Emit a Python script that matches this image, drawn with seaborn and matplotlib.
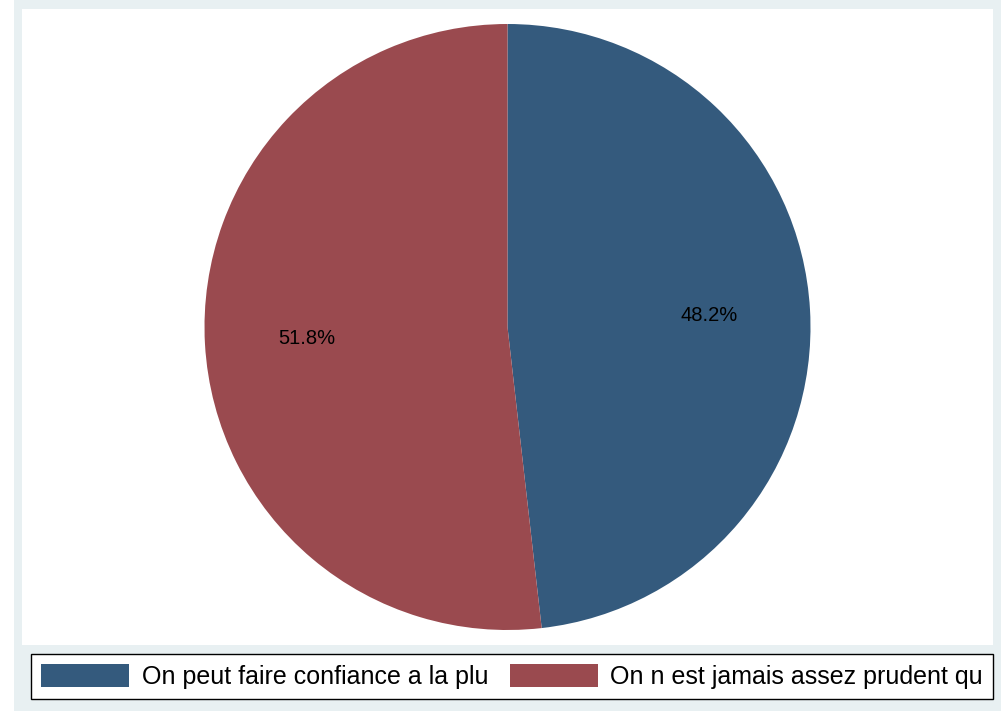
import matplotlib
matplotlib.use("Agg")
import matplotlib.pyplot as plt
import seaborn as sns
from matplotlib.patches import Rectangle

labels = ["On peut faire confiance a la plu", "On n est jamais assez prudent qu"]
shares = [48.2, 51.8]
colors = ["#345a7d", "#9a4a4f"]

sns.set_theme(style="white")
plt.rcParams['font.family'] = ['Liberation Sans', 'DejaVu Sans']

W, H = 1008, 711
fig = plt.figure(figsize=(W / 100, H / 100), dpi=100, facecolor="white")

# light grey-blue graph region, white plot region on top of it
fig.patches.append(Rectangle((14 / W, 0), 987 / W, 1, transform=fig.transFigure,
                             facecolor="#e8f0f2", edgecolor="none", zorder=-5))
fig.patches.append(Rectangle((22 / W, (H - 645) / H), 971 / W, 636 / H,
                             transform=fig.transFigure,
                             facecolor="white", edgecolor="none", zorder=-4))

ax = fig.add_axes([22 / W, (H - 645) / H, 971 / W, 636 / H])
ax.set_zorder(1)
wedges, texts, autotexts = ax.pie(
    shares, colors=colors, startangle=90, counterclock=False,
    autopct="%1.1f%%", pctdistance=0.665, radius=1.0,
    textprops={"fontsize": 14.5, "color": "black"},
    wedgeprops={"linewidth": 0})
ax.set_xlim(-971 / 2 / 303, 971 / 2 / 303)
ax.set_ylim(-636 / 2 / 303, 636 / 2 / 303)
ax.set_aspect("auto")

leg = fig.legend(wedges, labels, loc="lower left", ncol=2,
                 bbox_to_anchor=(31 / W, (H - 699) / H),
                 borderaxespad=0, borderpad=0.4, fontsize=18,
                 handlelength=3.5, handleheight=1.04,
                 handletextpad=0.52, columnspacing=0.88, fancybox=False,
                 frameon=True, edgecolor="black", facecolor="white", framealpha=1,
                 labelcolor="black")
leg.get_frame().set_linewidth(1.0)
leg.set_zorder(2)

fig.savefig("out.png", dpi=100, facecolor="white")
